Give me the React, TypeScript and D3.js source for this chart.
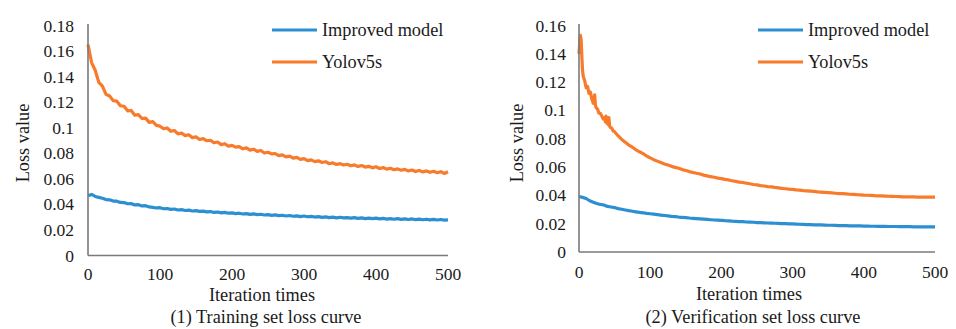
import React from "react";
import * as d3 from "d3";

const step5Iter: number[] = d3.range(0, 501, 5);

const trainYoloLoss = [
  0.165, 0.151, 0.145, 0.1355, 0.1325, 0.1262, 0.1248, 0.1212, 0.1208, 0.1172,
  0.1168, 0.1132, 0.1135, 0.1098, 0.1102, 0.1072, 0.1075, 0.1042, 0.1048, 0.1018,
  0.1012, 0.0992, 0.0998, 0.0972, 0.0978, 0.0952, 0.0958, 0.0938, 0.0945, 0.0922,
  0.0928, 0.0908, 0.0915, 0.0898, 0.0902, 0.0882, 0.0888, 0.0868, 0.0875, 0.0855,
  0.0862, 0.0848, 0.0852, 0.0835, 0.0842, 0.0825, 0.0832, 0.0815, 0.0822, 0.0802,
  0.0808, 0.0795, 0.0798, 0.0782, 0.0788, 0.0772, 0.0778, 0.0762, 0.0768, 0.0752,
  0.0758, 0.0742, 0.0748, 0.0735, 0.0741, 0.0728, 0.0734, 0.0718, 0.0725, 0.0712,
  0.0719, 0.0708, 0.0714, 0.0702, 0.0709, 0.0696, 0.0704, 0.0692, 0.0698, 0.0686,
  0.0694, 0.0681, 0.0688, 0.0676, 0.0683, 0.0671, 0.0678, 0.0667, 0.0674, 0.0662,
  0.0669, 0.0657, 0.0666, 0.0654, 0.0662, 0.0651, 0.0659, 0.0648, 0.0656, 0.0642,
  0.0655,
];

const trainImprovedLoss = [
  0.0468, 0.0478, 0.0462, 0.0455, 0.0448, 0.0438, 0.0436, 0.0426, 0.0425, 0.0415,
  0.0414, 0.0405, 0.0406, 0.0396, 0.0398, 0.0388, 0.039, 0.038, 0.0376, 0.0372,
  0.0374, 0.0366, 0.0368, 0.0361, 0.0364, 0.0356, 0.0359, 0.0352, 0.0355, 0.0348,
  0.0351, 0.0345, 0.0347, 0.0341, 0.0344, 0.0337, 0.034, 0.0334, 0.0337, 0.0331,
  0.0334, 0.0328, 0.0331, 0.0325, 0.0328, 0.0322, 0.0326, 0.032, 0.0323, 0.0317,
  0.032, 0.0314, 0.0318, 0.0312, 0.0315, 0.0309, 0.0313, 0.0307, 0.031, 0.0304,
  0.0309, 0.0303, 0.0306, 0.0301, 0.0304, 0.0298, 0.0302, 0.0297, 0.03, 0.0295,
  0.0299, 0.0294, 0.0297, 0.0292, 0.0296, 0.0291, 0.0294, 0.0289, 0.0293, 0.0288,
  0.0292, 0.0287, 0.029, 0.0285, 0.0289, 0.0284, 0.0288, 0.0283, 0.0287, 0.0282,
  0.0286, 0.0281, 0.0285, 0.028, 0.0284, 0.0279, 0.0283, 0.0278, 0.0282, 0.0277,
  0.0279,
];

const valYoloIter = [
  0, 1, 2, 3, 4, 5, 6, 8, 10, 12, 14, 16, 18, 20, 21, 22, 23, 24, 26, 28, 30, 32,
  34, 36, 37, 38, 39, 40, 41, 42, 43, 44, 46, 48, 50, 55, 60, 65, 70, 75, 80, 85,
  90, 95, 100, 105, 110, 115, 120, 125, 130, 135, 140, 145, 150, 155, 160, 165,
  170, 175, 180, 185, 190, 195, 200, 205, 210, 215, 220, 225, 230, 235, 240, 245,
  250, 255, 260, 265, 270, 275, 280, 285, 290, 295, 300, 305, 310, 315, 320, 325,
  330, 335, 340, 345, 350, 355, 360, 365, 370, 375, 380, 385, 390, 395, 400, 405,
  410, 415, 420, 425, 430, 435, 440, 445, 450, 455, 460, 465, 470, 475, 480, 485,
  490, 495, 500,
];

const valYoloLoss = [
  0.14, 0.148, 0.153, 0.15, 0.138, 0.128, 0.124, 0.121, 0.116, 0.117, 0.112, 0.113,
  0.108, 0.105, 0.107, 0.111, 0.104, 0.102, 0.101, 0.098, 0.098, 0.096, 0.094,
  0.095, 0.092, 0.096, 0.091, 0.093, 0.09, 0.095, 0.089, 0.088, 0.0875, 0.0855,
  0.085, 0.082, 0.0795, 0.0775, 0.0755, 0.074, 0.0722, 0.0708, 0.0695, 0.0678,
  0.0665, 0.0652, 0.0642, 0.0632, 0.0622, 0.0615, 0.0605, 0.0598, 0.0592, 0.0582,
  0.0576, 0.0568, 0.0562, 0.0556, 0.0551, 0.0543, 0.0538, 0.0532, 0.0528, 0.0522,
  0.0518, 0.0513, 0.0509, 0.0503, 0.0499, 0.0494, 0.0491, 0.0486, 0.0482, 0.0477,
  0.0474, 0.0469, 0.0466, 0.0462, 0.046, 0.0456, 0.0453, 0.045, 0.0447, 0.0444,
  0.0442, 0.0439, 0.0437, 0.0434, 0.0432, 0.043, 0.0428, 0.0425, 0.0423, 0.0421,
  0.0419, 0.0417, 0.0415, 0.0413, 0.0412, 0.041, 0.0408, 0.0407, 0.0405, 0.0404,
  0.0402, 0.0401, 0.04, 0.0398, 0.0397, 0.0396, 0.0395, 0.0394, 0.0393, 0.0392,
  0.0391, 0.039, 0.039, 0.0389, 0.0389, 0.0388, 0.0388, 0.0387, 0.0387, 0.0387,
  0.0387,
];

const valImprovedLoss = [
  0.0392, 0.0386, 0.0378, 0.0362, 0.0352, 0.0343, 0.0336, 0.0332, 0.0322, 0.0318,
  0.0314, 0.0306, 0.0302, 0.0297, 0.0292, 0.0288, 0.0284, 0.028, 0.0277, 0.0273,
  0.027, 0.0267, 0.0264, 0.0261, 0.0258, 0.0255, 0.0252, 0.025, 0.0247, 0.0245,
  0.0243, 0.024, 0.0238, 0.0236, 0.0234, 0.0232, 0.023, 0.0228, 0.0226, 0.0225,
  0.0223, 0.0221, 0.022, 0.0218, 0.0217, 0.0215, 0.0214, 0.0212, 0.0211, 0.021,
  0.0208, 0.0207, 0.0206, 0.0205, 0.0204, 0.0203, 0.0202, 0.0201, 0.02, 0.0199,
  0.0198, 0.0197, 0.0196, 0.0195, 0.0194, 0.0193, 0.0192, 0.0192, 0.0191, 0.019,
  0.0189, 0.0189, 0.0188, 0.0187, 0.0187, 0.0186, 0.0185, 0.0185, 0.0184, 0.0184,
  0.0183, 0.0183, 0.0182, 0.0182, 0.0181, 0.0181, 0.0181, 0.018, 0.018, 0.018,
  0.0179, 0.0179, 0.0179, 0.0179, 0.0178, 0.0178, 0.0178, 0.0178, 0.0178, 0.0178,
  0.0178,
];

const trainYTicks = [0, 0.02, 0.04, 0.06, 0.08, 0.1, 0.12, 0.14, 0.16, 0.18];
const valYTicks = [0, 0.02, 0.04, 0.06, 0.08, 0.1, 0.12, 0.14, 0.16];
const xTicks = [0, 100, 200, 300, 400, 500];
const seriesNames = ["Improved model", "Yolov5s"];
const captions = ["(1) Training set loss curve", "(2) Verification set loss curve"];

const BLUE = "#2C8FD2";
const ORANGE = "#F77B2A";
const AXIS = "#7a7a7a";
const TEXT = "#1a1a1a";
const FONT = "'Liberation Serif', 'Times New Roman', serif";
const FS_TICK = 17.5;
const FS = 18.3;

type PanelProps = {
  x0: number; x1: number; yTop: number; yBottom: number; yMax: number;
  yTicks: number[]; tickLabelX: number; xTickY: number; titleY: number;
  improvedIter: number[]; improved: number[]; yoloIter: number[]; yolo: number[];
  legendX: number; yLabelX: number; caption: string; centerX: number;
};

function Panel(p: PanelProps) {
  const x = d3.scaleLinear().domain([0, 500]).range([p.x0, p.x1]);
  const y = d3.scaleLinear().domain([0, p.yMax]).range([p.yBottom, p.yTop + 1.5]);
  const line = d3
    .line<[number, number]>()
    .x((d) => x(d[0]))
    .y((d) => y(d[1]))
    .curve(d3.curveLinear);
  const impPts: [number, number][] = p.improved.map((v, i) => [p.improvedIter[i], v]);
  const yoloPts: [number, number][] = p.yolo.map((v, i) => [p.yoloIter[i], v]);
  return (
    <g fontFamily={FONT} fontSize={FS} fill={TEXT}>
      {p.yTicks.map((t) => (
        <text key={t} x={p.tickLabelX} y={y(t)} textAnchor="end" dominantBaseline="central" fontSize={FS_TICK}>
          {String(+t.toFixed(2))}
        </text>
      ))}
      {xTicks.map((t) => (
        <text key={t} x={x(t)} y={p.xTickY} textAnchor="middle" dominantBaseline="central" fontSize={FS_TICK}>
          {t}
        </text>
      ))}
      <path d={line(yoloPts) || ""} fill="none" stroke={ORANGE} strokeWidth={3.2} strokeLinejoin="round" />
      <path d={line(impPts) || ""} fill="none" stroke={BLUE} strokeWidth={3.2} strokeLinejoin="round" />
      <line x1={p.x0} x2={p.x0} y1={p.yTop} y2={p.yBottom} stroke={AXIS} strokeWidth={1.6} />
      <line x1={p.x0} x2={p.x1} y1={p.yBottom} y2={p.yBottom} stroke={AXIS} strokeWidth={1.6} />
      <text
        transform={`translate(${p.yLabelX},143) rotate(-90)`}
        textAnchor="middle"
        dominantBaseline="central"
      >
        Loss value
      </text>
      <text x={p.centerX} y={p.titleY} textAnchor="middle" dominantBaseline="central">
        Iteration times
      </text>
      <text x={p.centerX + 4} y={317} textAnchor="middle" dominantBaseline="central">
        {p.caption}
      </text>
      {seriesNames.map((name, i) => (
        <g key={name}>
          <line
            x1={p.legendX}
            x2={p.legendX + 45}
            y1={30 + i * 32}
            y2={30 + i * 32}
            stroke={i === 0 ? BLUE : ORANGE}
            strokeWidth={3.2}
          />
          <text x={p.legendX + 50} y={30 + i * 32} dominantBaseline="central">
            {name}
          </text>
        </g>
      ))}
    </g>
  );
}

export default function App() {
  return (
    <svg
      width={956}
      height={329}
      style={{ position: "absolute", left: 0, top: 0, background: "#fff" }}
    >
      <rect width={956} height={329} fill="#fff" />
      <Panel
        x0={88} x1={448} yTop={24} yBottom={255.5} yMax={0.18}
        yTicks={trainYTicks} tickLabelX={74} xTickY={273.5} titleY={295}
        improvedIter={step5Iter} improved={trainImprovedLoss}
        yoloIter={step5Iter} yolo={trainYoloLoss}
        legendX={272} yLabelX={23} caption={captions[0]} centerX={262}
      />
      <Panel
        x0={579} x1={935} yTop={24} yBottom={252} yMax={0.16}
        yTicks={valYTicks} tickLabelX={566} xTickY={272} titleY={294}
        improvedIter={step5Iter} improved={valImprovedLoss}
        yoloIter={valYoloIter} yolo={valYoloLoss}
        legendX={758} yLabelX={517} caption={captions[1]} centerX={749}
      />
    </svg>
  );
}
